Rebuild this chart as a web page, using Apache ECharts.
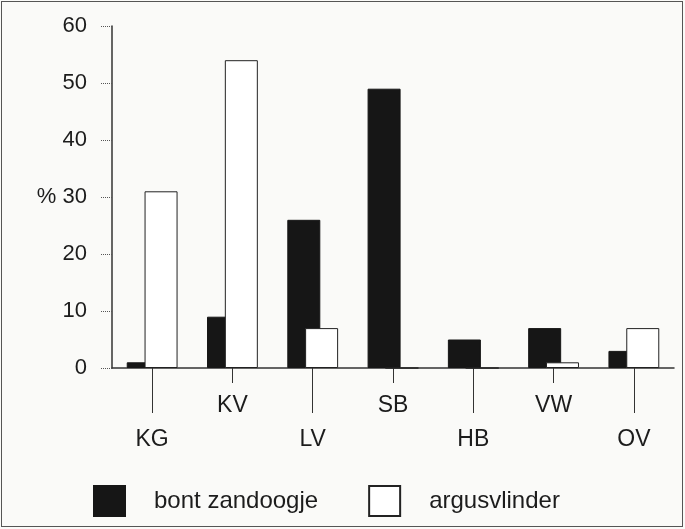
<!DOCTYPE html>
<html>
<head>
<meta charset="utf-8">
<script src="https://cdn.jsdelivr.net/npm/echarts@6/dist/echarts.min.js"></script>
<style>
  html, body { margin: 0; padding: 0; background: #fafaf8; }
  .wrap { position: relative; width: 685px; height: 529px; }
  #chart { width: 685px; height: 529px; }
  .frame {
    position: absolute; left: 1px; top: 1px; width: 680px; height: 524px;
    border: 1.5px solid #555; pointer-events: none;
  }
</style>
</head>
<body>
<div class="wrap">
  <div id="chart"></div>
  <div class="frame"></div>
</div>
<script>
// gebieden
const categories = ['KG', 'KV', 'LV', 'SB', 'HB', 'VW', 'OV'];
// percentages
const bontZandoogje = [1, 9, 26, 49, 5, 7, 3];
const argusvlinder = [31, 54, 7, 0, 0, 1, 7];
const yTicks = { min: 0, max: 60, step: 10 };

const font = "'Liberation Sans', Arial, sans-serif";
const ink = '#1c1c1c';

const chart = echarts.init(document.getElementById('chart'));

// labels staan verspringend: even index lang streepje, oneven kort
const isEven = (i) => i % 2 === 0;
const isOdd = (i) => i % 2 === 1;

const gridBox = { left: 112, right: 11, top: 26, bottom: 161 };

const labelAxis = (show, tickLen, margin) => ({
  type: 'category',
  gridIndex: 1,
  position: 'bottom',
  data: categories,
  axisLine: { show: false },
  axisTick: {
    show: true,
    alignWithLabel: true,
    interval: show,
    length: tickLen,
    lineStyle: { color: '#333', width: 1 }
  },
  axisLabel: { interval: show, margin: margin, fontFamily: font, fontSize: 23, color: ink }
});

const option = {
  backgroundColor: 'transparent',
  animation: false,
  grid: [gridBox, gridBox],
  legend: {
    left: 88,
    top: 480,
    icon: 'rect',
    itemWidth: 31,
    itemHeight: 30,
    itemGap: 50,
    textStyle: { fontFamily: font, fontSize: 24, color: ink, padding: [0, 0, 0, 24] },
    data: ['bont zandoogje', 'argusvlinder']
  },
  xAxis: [
    {
      type: 'category',
      gridIndex: 0,
      data: categories,
      axisLine: { lineStyle: { color: '#333', width: 1.5 } },
      axisTick: { show: false },
      axisLabel: { show: false }
    },
    labelAxis(isEven, 45, 60),
    labelAxis(isOdd, 15, 26)
  ],
  yAxis: [
    {
      type: 'value',
      gridIndex: 0,
      min: yTicks.min,
      max: yTicks.max,
      interval: yTicks.step,
      splitLine: { show: false },
      axisLine: { show: true, lineStyle: { color: '#333', width: 1.5 } },
      axisTick: { show: true, length: 12, lineStyle: { color: '#555', type: 'dotted', width: 1 } },
      axisLabel: {
        margin: 25,
        fontFamily: font,
        fontSize: 22,
        color: ink,
        formatter: (v) => (v === 30 ? '% 30' : String(v))
      }
    },
    { type: 'value', gridIndex: 1, show: false, min: 0, max: 60 }
  ],
  series: [
    {
      name: 'bont zandoogje',
      type: 'bar',
      xAxisIndex: 0,
      yAxisIndex: 0,
      barWidth: 33,
      barGap: '-46%',
      data: bontZandoogje,
      itemStyle: { color: '#161616', borderColor: '#161616', borderWidth: 1 }
    },
    {
      name: 'argusvlinder',
      type: 'bar',
      xAxisIndex: 0,
      yAxisIndex: 0,
      barWidth: 33,
      barGap: '-46%',
      data: argusvlinder,
      itemStyle: { color: '#ffffff', borderColor: '#222', borderWidth: 1 }
    }
  ]
};

chart.setOption(option);
</script>
</body>
</html>
